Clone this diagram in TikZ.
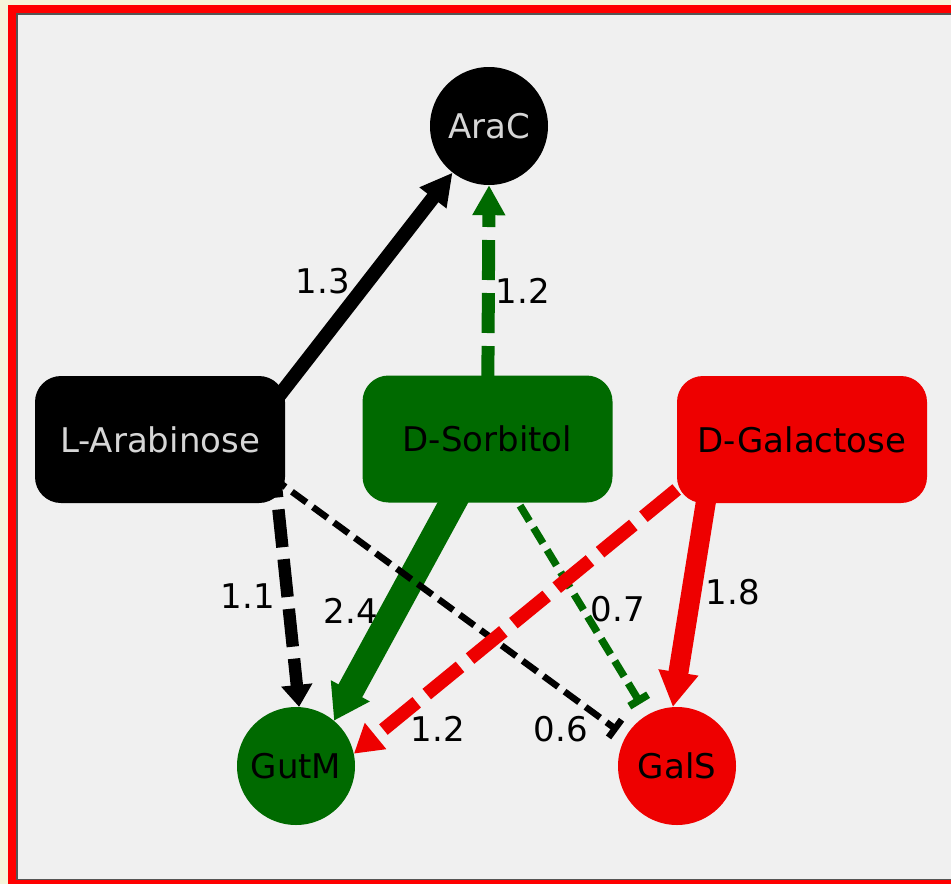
\documentclass[tikz,border=0pt]{standalone}
\usepackage{fontspec}
\setmainfont{DejaVu Sans}
\usetikzlibrary{arrows.meta,calc}
\definecolor{bgbeige}{RGB}{245,245,218}
\definecolor{framered}{RGB}{255,0,0}
\definecolor{panelgray}{RGB}{240,240,240}
\definecolor{linegray}{RGB}{85,85,85}
\definecolor{ngreen}{RGB}{0,106,0}
\definecolor{nred}{RGB}{238,0,0}
\definecolor{lighttext}{RGB}{214,214,214}
\pgfdeclarelayer{back}
\pgfdeclarelayer{edges}
\pgfsetlayers{back,edges,main}
\tikzset{
  bigfont/.style={font=\fontsize{34}{40}\selectfont},
  lbl/.style={bigfont, inner sep=0pt, text=black},
  boxnode/.style={bigfont, rounded corners=26pt, minimum width=250pt, minimum height=127pt, inner sep=0pt},
  circnode/.style={bigfont, circle, minimum size=118pt, inner sep=0pt},
  longdash/.style={dash pattern=on 40pt off 13pt},
  shortdash/.style={dash pattern=on 18pt off 8pt},
}
\begin{document}
\begin{tikzpicture}[x=1pt,y=-1pt]
\useasboundingbox (0,0) rectangle (951,884);
% nodes
\node[circnode, fill=black, text=lighttext] (AraC) at (489,126) {AraC};
\node[boxnode, fill=black, text=lighttext] (LAra) at (160,439.5) {L-Arabinose};
\node[boxnode, fill=ngreen, text=black] (DSorb) at (487.5,439) {D-Sorbitol};
\node[boxnode, fill=nred, text=black] (DGal) at (802,439.5) {D-Galactose};
\node[circnode, fill=ngreen, text=black] (GutM) at (296,766) {GutM};
\node[circnode, fill=nred, text=black] (GalS) at (677,766) {GalS};
% weight labels
\node[lbl] (w1) at (323,281) {1.3};
\node[lbl] (w2) at (523,291) {1.2};
\node[lbl] (w3) at (248,596) {1.1};
\node[lbl] (w4) at (351,611) {2.4};
\node[lbl] (w5) at (561,729) {0.6};
\node[lbl] (w6) at (618,609) {0.7};
\node[lbl] (w7) at (438,729) {1.2};
\node[lbl] (w8) at (733,592) {1.8};
% frame
\begin{pgfonlayer}{back}
\fill[bgbeige] (0,0) rectangle (951,884);
\fill[framered] (8,5) rectangle (951,884);
\fill[linegray] (16.3,13.3) rectangle (951,880);
\fill[panelgray] (17.5,15) rectangle (951,878.5);
\end{pgfonlayer}
% edges
\begin{pgfonlayer}{edges}
\draw[black, line width=14pt, -{Triangle[length=32pt,width=32pt]}]
  ($(LAra.center)+(108,-29.5)$) -- (AraC.232);
\draw[ngreen, line width=13pt, longdash, -{Triangle[length=30pt,width=31pt]}]
  (DSorb.center) -- (AraC.south);
\draw[black, line width=12.4pt, dash pattern=on 38pt off 12pt, -{Triangle[length=22pt,width=30pt]}]
  ($(LAra.center)+(108,-29.5)$) -- (GutM.87);
\draw[ngreen, line width=27pt, -{Triangle[length=34pt,width=42pt]}]
  (DSorb.center) -- (GutM.50);
\draw[black, line width=6.5pt, shortdash, shorten >=10pt, -{Bar[width=22pt]}]
  ($(LAra.center)+(90,21.5)$) -- (GalS.150);
\draw[ngreen, line width=7.5pt, shortdash, shorten >=13pt, -{Bar[width=22pt]}]
  ($(DSorb.center)+(-8,0)$) -- (GalS.120);
\draw[nred, line width=13.5pt, dash pattern=on 43pt off 13pt, -{Triangle[length=28pt,width=32pt]}]
  ($(DGal.center)+(-82,14.5)$) -- (GutM.12);
\draw[nred, line width=20pt, -{Triangle[length=35pt,width=38pt]}]
  ($(DGal.center)+(-86,-0.5)$) -- (GalS.94);
\end{pgfonlayer}
\end{tikzpicture}
\end{document}
